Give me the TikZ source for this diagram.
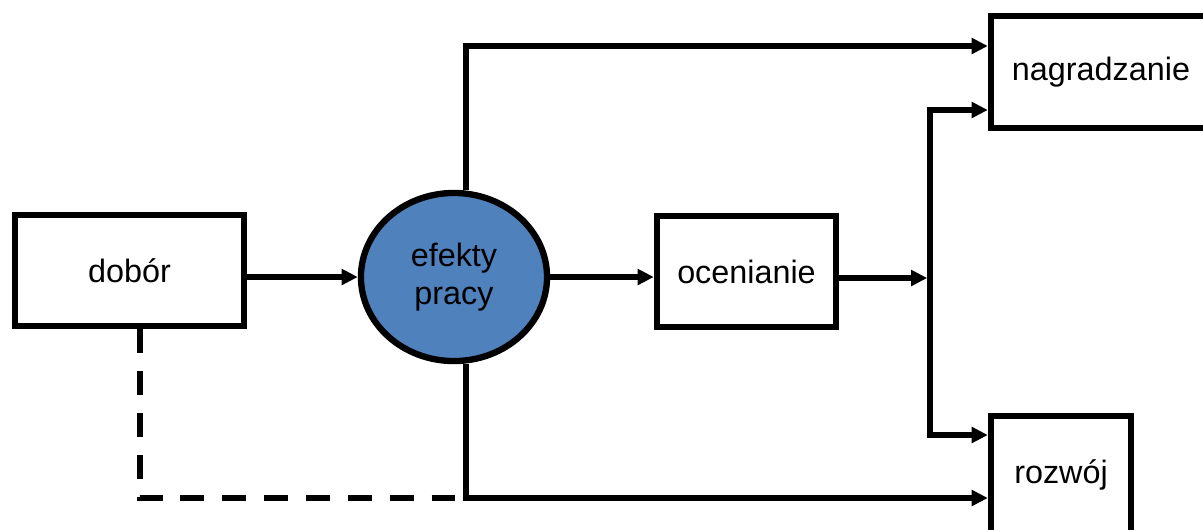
\documentclass[tikz,border=0pt]{standalone}
\usepackage{fontspec}
\setmainfont{Liberation Sans}
\usetikzlibrary{arrows.meta}
\usetikzlibrary{shapes.geometric}

\definecolor{ellblue}{RGB}{79,129,189}

\tikzset{
  box/.style={draw,line width=1.8pt,rectangle,fill=white,inner sep=0pt,
    font=\fontsize{9.2}{11}\selectfont},
  arr/.style={line width=1.6pt,-{Triangle[length=4.6pt,width=4.4pt]}},
  dashline/.style={line width=1.6pt,dash pattern=on 6.8pt off 5.1pt}
}

\begin{document}
\begin{tikzpicture}[x=0.01cm,y=-0.01cm]
\clip (0,0) rectangle (1203,529);
\fill[white] (0,0) rectangle (1203,529);

% boxes
\node[box,minimum width=2.29cm,minimum height=1.11cm] (dobor) at (129.5,270.5) {dobór};
\node[box,minimum width=1.79cm,minimum height=1.11cm] (ocen) at (746.5,271.5) {ocenianie};
\node[box,minimum width=2.20cm,minimum height=1.12cm] (nagr) at (1101,72) {nagradzanie};
\node[box,minimum width=1.40cm,minimum height=1.18cm] (rozw) at (1061,475) {rozwój};
\node[ellipse,draw,line width=1.8pt,fill=ellblue,inner sep=0pt,align=center,
  minimum width=1.86cm,minimum height=1.68cm,font=\fontsize{9.2}{11}\selectfont] (ell) at (454,277) {efekty\\pracy};

% branch points
\coordinate (split) at (930,278);
\coordinate (splitN) at (930,110);
\coordinate (splitS) at (930,435);
\coordinate (upper) at (466,46);
\coordinate (lower) at (466,498);
\coordinate (back) at (140,498);

% main line
\draw[arr] (dobor.east |- ell.west) -- (ell.west);
\draw[arr] (ell.east) -- (ocen.west |- ell.east);
\draw[arr] (ocen.east |- split) -- ([xshift=-0.8pt]split);
\draw[arr] (split) |- (nagr.west |- splitN);
\draw[arr] (split) |- (rozw.west |- splitS);

% around the ellipse
\draw[arr] (ell.north -| upper) |- (nagr.west |- upper);
\draw[arr] (ell.south -| lower) |- (rozw.west |- lower);
\draw[dashline] (dobor.south -| back) |- (lower);

\end{tikzpicture}
\end{document}
